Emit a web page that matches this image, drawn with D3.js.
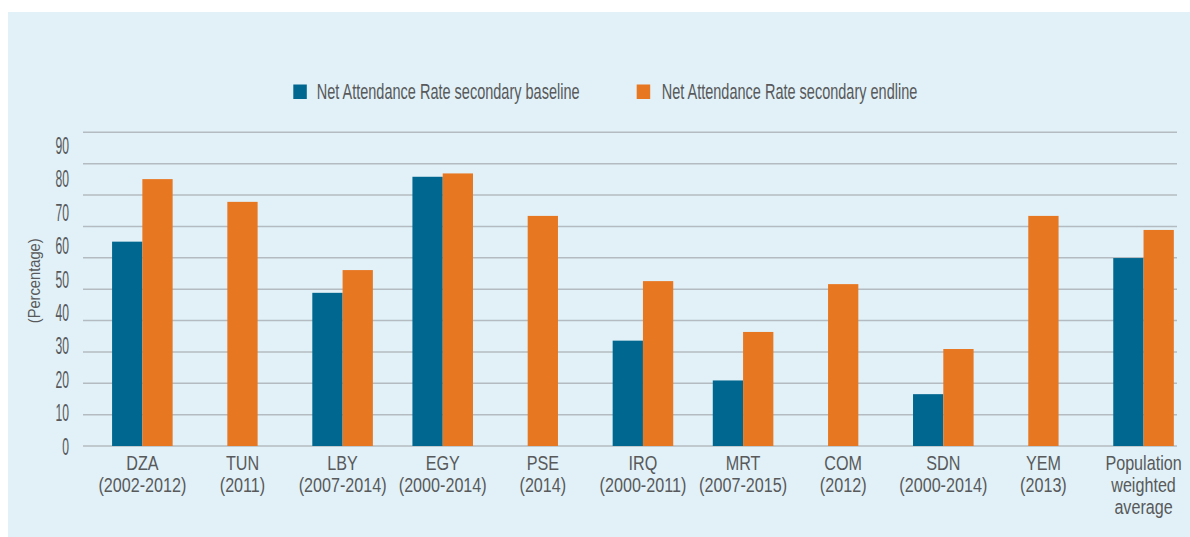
<!DOCTYPE html>
<html>
<head>
<meta charset="utf-8">
<script src="https://cdn.jsdelivr.net/npm/d3@7"></script>
<style>
  html, body { margin: 0; padding: 0; background: #ffffff; }
  svg { display: block; }
  text { font-family: "Liberation Sans", Arial, sans-serif; fill: #58595b; }
</style>
</head>
<body>
<svg id="chart" width="1190" height="537"></svg>
<script>
// ---- data ----
const categories = ["DZA", "TUN", "LBY", "EGY", "PSE", "IRQ", "MRT", "COM", "SDN", "YEM", "PWA"];
const categoryLabels = [
  ["DZA", "(2002-2012)"],
  ["TUN", "(2011)"],
  ["LBY", "(2007-2014)"],
  ["EGY", "(2000-2014)"],
  ["PSE", "(2014)"],
  ["IRQ", "(2000-2011)"],
  ["MRT", "(2007-2015)"],
  ["COM", "(2012)"],
  ["SDN", "(2000-2014)"],
  ["YEM", "(2013)"],
  ["Population", "weighted", "average"]
];
const baselineValues = [61.1, null, 45.8, 80.5, null, 31.5, 19.6, null, 15.5, null, 56.2];
const endlineValues  = [79.8, 73.0, 52.6, 81.5, 68.8, 49.3, 34.1, 48.4, 29.0, 68.8, 64.6];
const seriesNames = ["Net Attendance Rate secondary baseline", "Net Attendance Rate secondary endline"];
const yTickValues = [0, 10, 20, 30, 40, 50, 60, 70, 80, 90];
const yTitle = "(Percentage)";

// ---- styles ----
const colors = { baseline: "#006890", endline: "#e87722" };
const svg = d3.select("#chart");

svg.append("rect").attr("x", 8).attr("y", 12).attr("width", 1190).attr("height", 537)
  .attr("fill", "#e1f1f7");

// scales
const y = d3.scaleLinear().domain([0, 90]).range([446, 145]);
const gridScale = d3.scaleLinear().domain([0, 10]).range([446, 132.3]);
const x = d3.scaleBand().domain(categories).range([92.3, 1193.6])
  .paddingInner(0.395).paddingOuter(0.1975);
const xSub = d3.scaleBand().domain(["baseline", "endline"]).range([0, x.bandwidth()]);

// gridlines
svg.append("g").selectAll("line").data(d3.range(11)).join("line")
  .attr("x1", 83).attr("x2", 1177)
  .attr("y1", d => gridScale(d)).attr("y2", d => gridScale(d))
  .attr("stroke", "#b4bbc1").attr("stroke-width", 1.5);

// helper: horizontal squeeze to a target width
function squeezeFactor(fontSize, str, target) {
  const t = svg.append("text").attr("font-size", fontSize).text(str);
  const w = t.node().getComputedTextLength();
  t.remove();
  return target / w;
}

// bars
const rows = categories.map((c, i) => ({ c, b: baselineValues[i], e: endlineValues[i] }));
const gBars = svg.append("g");
rows.forEach(r => {
  const bw = xSub.bandwidth();
  if (r.b != null) {
    gBars.append("rect")
      .attr("x", x(r.c) + xSub("baseline")).attr("width", bw)
      .attr("y", y(r.b)).attr("height", y(0) - y(r.b))
      .attr("fill", colors.baseline);
    gBars.append("rect")
      .attr("x", x(r.c) + xSub("endline")).attr("width", bw)
      .attr("y", y(r.e)).attr("height", y(0) - y(r.e))
      .attr("fill", colors.endline);
  } else {
    gBars.append("rect")
      .attr("x", x(r.c) + (x.bandwidth() - bw) / 2).attr("width", bw)
      .attr("y", y(r.e)).attr("height", y(0) - y(r.e))
      .attr("fill", colors.endline);
  }
});

// y axis tick labels
const tickFont = 23;
const tickSx = squeezeFactor(tickFont, "90", 13.5);
const yAxis = d3.axisLeft(y).tickValues(yTickValues).tickSize(0).tickPadding(0);
const gy = svg.append("g").attr("transform", "translate(69,0)").call(yAxis);
gy.select(".domain").remove();
gy.selectAll("text")
  .attr("x", 0).attr("dy", "0.36em")
  .attr("font-size", tickFont)
  .attr("font-family", null)
  .attr("fill", "#58595b")
  .attr("transform", `scale(${tickSx},1)`);

// y title
const titleFont = 17;
const titleSx = squeezeFactor(titleFont, yTitle, 85);
svg.append("text")
  .attr("transform", `translate(40,280.8) rotate(-90) scale(${titleSx},1)`)
  .attr("text-anchor", "middle").attr("font-size", titleFont)
  .text(yTitle);

// category labels
const catFont = 19.5;
const catSx = Math.min(squeezeFactor(catFont, "Population", 84.7),
                       squeezeFactor(catFont, "(2002-2012)", 88));
const gCat = svg.append("g");
categoryLabels.forEach((lines, i) => {
  const cx = x(categories[i]) + x.bandwidth() / 2;
  lines.forEach((ln, j) => {
    gCat.append("text")
      .attr("transform", `translate(${cx},${470 + j * 22}) scale(${catSx},1)`)
      .attr("text-anchor", "middle").attr("font-size", catFont)
      .text(ln);
  });
});

// legend
const legFont = 22.5;
const legSx = squeezeFactor(legFont, seriesNames[0], 263);
const legendItems = [
  { name: seriesNames[0], color: colors.baseline, sx: 293.3, tx: 316.7 },
  { name: seriesNames[1], color: colors.endline, sx: 636.7, tx: 661.7 }
];
legendItems.forEach(it => {
  svg.append("rect").attr("x", it.sx).attr("y", 84.5).attr("width", 13.5).attr("height", 14.5)
    .attr("fill", it.color);
  svg.append("text")
    .attr("transform", `translate(${it.tx},99) scale(${legSx},1)`)
    .attr("font-size", legFont)
    .text(it.name);
});
</script>
</body>
</html>
